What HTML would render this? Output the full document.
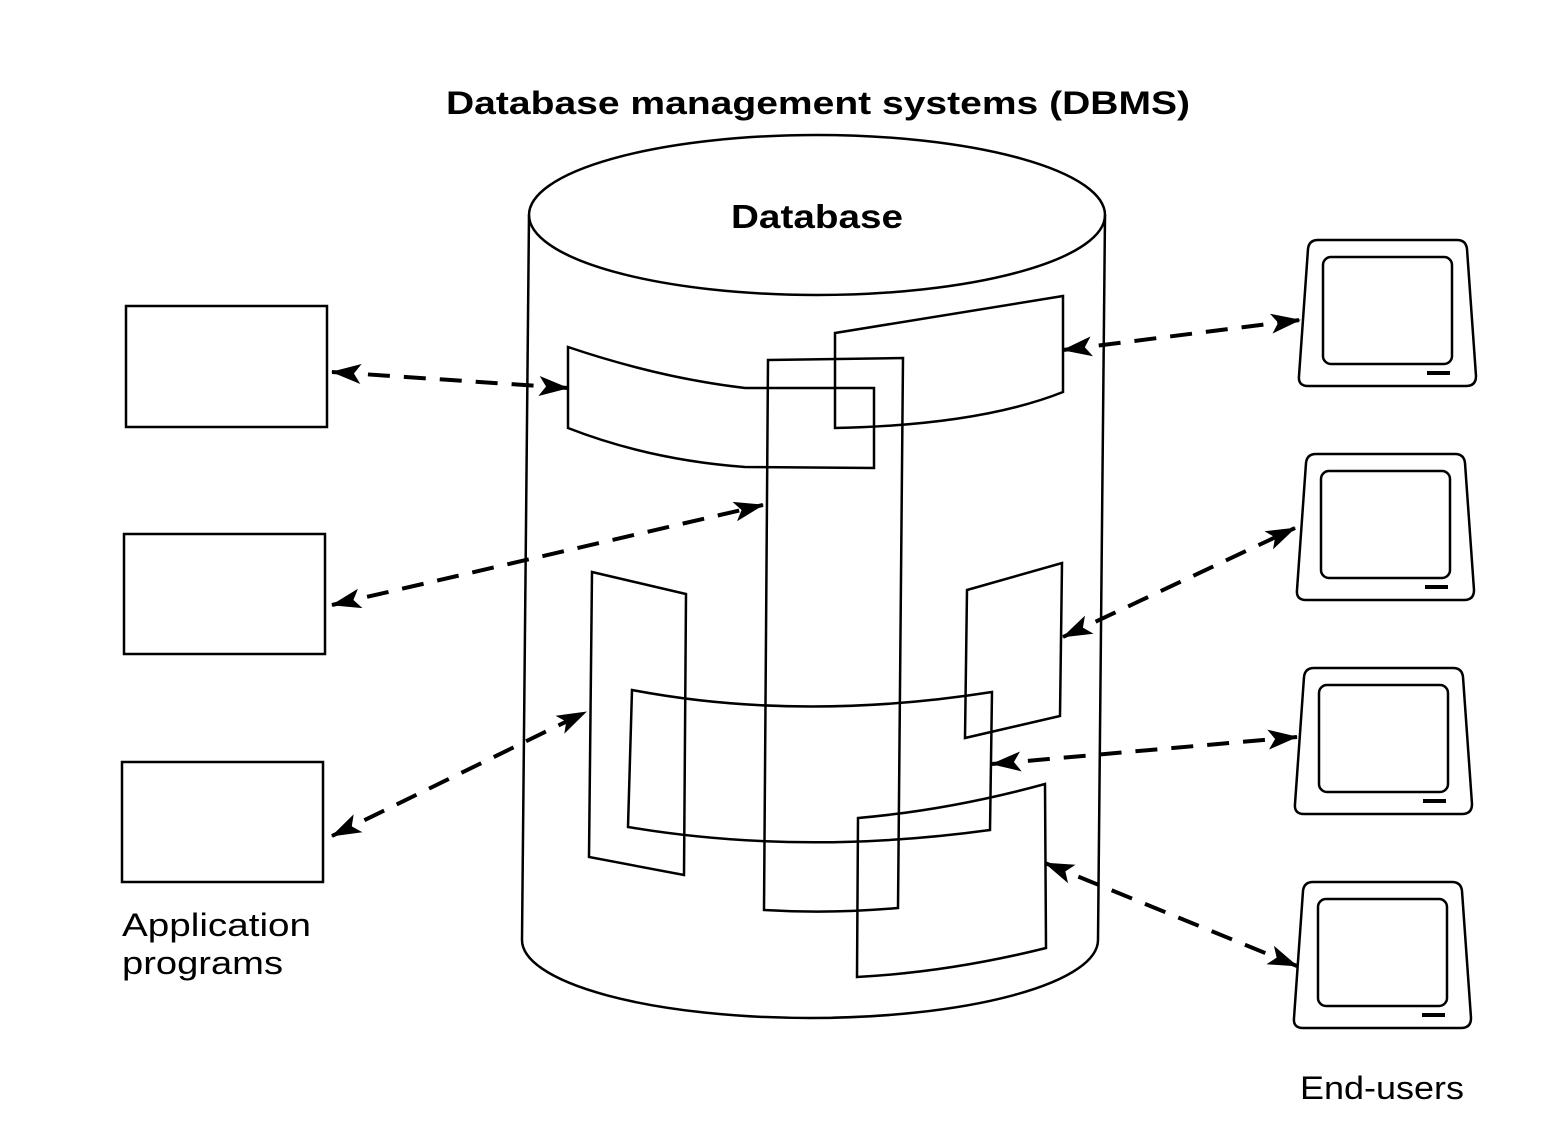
<!DOCTYPE html>
<html><head><meta charset="utf-8"><style>
html,body{margin:0;padding:0;background:#fff}
svg{display:block}
text{font-family:"Liberation Sans",sans-serif;fill:#000}
</style></head><body>
<svg width="1560" height="1140" viewBox="0 0 1560 1140" xmlns="http://www.w3.org/2000/svg">
<defs>
<marker id="ah" viewBox="0 0 30 20" refX="29" refY="10" markerWidth="30" markerHeight="20" markerUnits="userSpaceOnUse" orient="auto-start-reverse">
<path d="M0,0 L30,10 L0,20 L7,10 Z" fill="#000"/>
</marker>
</defs>
<text x="446" y="114" font-size="32" font-weight="bold" textLength="744" lengthAdjust="spacingAndGlyphs">Database management systems (DBMS)</text>
<g fill="none" stroke="#000" stroke-width="2.5">
<ellipse cx="817" cy="215" rx="288" ry="80"/>
<path d="M529,215 L522,940 A288,78 0 0 0 1098,940 L1105,215"/>
<path d="M568,347 Q660,378 745,388 L874,388 L874,468 L745,467 Q650,460 568,428 Z"/>
<path d="M835,333 L1063,296 L1063,392 Q980,425 835,428 Z"/>
<path d="M768,360 L903,358 L898,908 Q830,914 764,910 Z"/>
<path d="M592,572 L686,594 L684,875 L589,857 Z"/>
<path d="M967,590 L1062,563 L1060,716 L965,738 Z"/>
<path d="M632,690 Q800,722 992,692 L990,830 Q800,856 628,827 Z"/>
<path d="M858,818 Q950,810 1045,784 L1046,948 Q950,972 857,977 Z"/>
<rect x="126" y="306" width="201" height="121"/>
<rect x="124" y="534" width="201" height="120"/>
<rect x="122" y="762" width="201" height="120"/>
<g id="t1">
<path d="M1318,240 L1457,240 Q1466,240 1467,249 L1476,376 Q1476,386 1466,386 L1308,386 Q1298,386 1299,376 L1308,249 Q1309,240 1318,240 Z"/>
<rect x="1323" y="257" width="129" height="107" rx="8"/>
<line x1="1427" y1="373" x2="1450" y2="373" stroke-width="4"/>
</g>
<use href="#t1" transform="translate(-2,214)"/>
<use href="#t1" transform="translate(-4,428)"/>
<use href="#t1" transform="translate(-5,642)"/>
</g>
<g stroke="#000" stroke-width="4" fill="none" stroke-dasharray="22,14" marker-start="url(#ah)" marker-end="url(#ah)">
<line x1="332" y1="372" x2="568" y2="388"/>
<line x1="332" y1="605" x2="763" y2="505"/>
<line x1="332" y1="836" x2="586" y2="712"/>
<line x1="1063" y1="350" x2="1300" y2="320"/>
<line x1="1063" y1="637" x2="1295" y2="528"/>
<line x1="992" y1="764" x2="1297" y2="737"/>
<line x1="1045" y1="863" x2="1297" y2="966"/>
</g>
<text x="731" y="228" font-size="33" font-weight="bold" textLength="172" lengthAdjust="spacingAndGlyphs">Database</text>
<text x="122" y="936" font-size="32" textLength="189" lengthAdjust="spacingAndGlyphs">Application</text>
<text x="122" y="974" font-size="32" textLength="161" lengthAdjust="spacingAndGlyphs">programs</text>
<text x="1300" y="1099" font-size="32" textLength="164" lengthAdjust="spacingAndGlyphs">End-users</text>
</svg>
</body></html>
